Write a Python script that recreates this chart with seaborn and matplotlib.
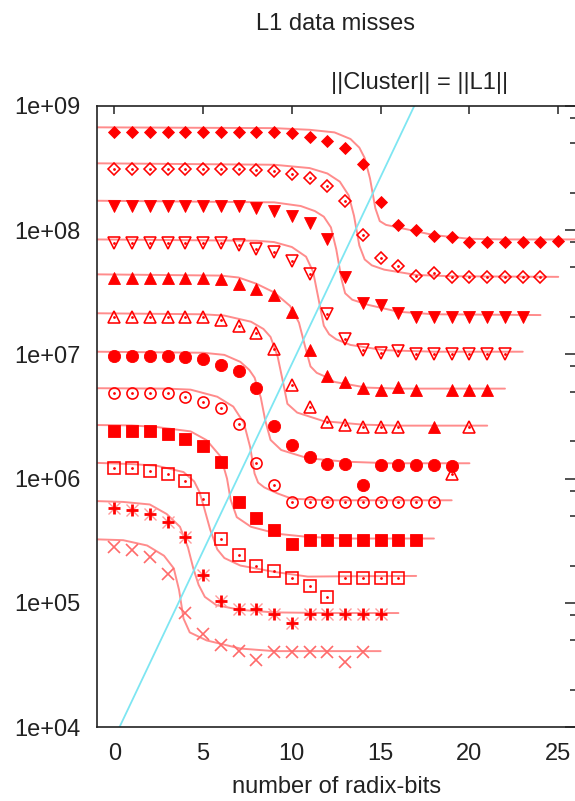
import numpy as np
import pandas as pd
import matplotlib
matplotlib.use("Agg")
import matplotlib.pyplot as plt
import seaborn as sns
from matplotlib.ticker import FixedLocator, FuncFormatter, NullFormatter, NullLocator

# ------------------------------------------------------------------ data
radix_bits = [0, 1, 2, 3, 4, 5, 6, 7, 8, 9, 10, 11, 12, 13, 14, 15, 16, 17,
              18, 19, 20, 21, 22, 23, 24, 25]

# measured L1 data misses, one list per series (top to bottom)
misses_s1 = [6.2e8, 6.2e8, 6.2e8, 6.2e8, 6.2e8, 6.2e8, 6.2e8, 6.2e8, 6.2e8, 6.1e8,
             6.0e8, 5.6e8, 5.2e8, 4.6e8, 3.4e8, 1.69e8, 1.1e8, 1.0e8, 9.0e7, 8.8e7,
             8.0e7, 8.0e7, 8.0e7, 8.0e7, 8.0e7, 8.1e7]
misses_s2 = [3.1e8, 3.1e8, 3.1e8, 3.1e8, 3.1e8, 3.1e8, 3.1e8, 3.08e8, 3.05e8, 3.0e8,
             2.82e8, 2.6e8, 2.26e8, 1.72e8, 9.2e7, 6.0e7, 5.1e7, 4.3e7, 4.5e7, 4.2e7,
             4.2e7, 4.2e7, 4.2e7, 4.2e7, 4.2e7]
misses_s3 = [1.55e8, 1.55e8, 1.55e8, 1.55e8, 1.55e8, 1.55e8, 1.55e8, 1.55e8, 1.5e8, 1.42e8,
             1.3e8, 1.13e8, 8.5e7, 4.2e7, 2.6e7, 2.5e7, 2.16e7, 1.99e7, 1.99e7, 1.99e7,
             1.99e7, 1.99e7, 1.99e7, 1.99e7]
misses_s4 = [7.8e7, 7.8e7, 7.8e7, 7.8e7, 7.8e7, 7.8e7, 7.8e7, 7.6e7, 7.1e7, 6.6e7,
             5.6e7, 4.4e7, 2.1e7, 1.33e7, 1.08e7, 1.03e7, 1.07e7, 1.0e7, 1.0e7, 1.0e7,
             1.0e7, 1.0e7, 1.0e7]
misses_s5 = [4.1e7, 4.1e7, 4.1e7, 4.1e7, 4.1e7, 4.1e7, 4.0e7, 3.7e7, 3.33e7, 3.0e7,
             2.2e7, 1.08e7, 6.7e6, 6.0e6, 5.4e6, 5.2e6, 5.5e6, 5.2e6, 2.6e6, 5.2e6,
             5.2e6, 5.2e6]
misses_s6 = [2.0e7, 2.0e7, 2.0e7, 2.0e7, 2.0e7, 2.0e7, 1.9e7, 1.69e7, 1.49e7, 1.1e7,
             5.7e6, 3.8e6, 2.87e6, 2.7e6, 2.6e6, 2.6e6, 2.6e6, np.nan, np.nan, 1.1e6,
             2.6e6]
misses_s7 = [9.7e6, 9.7e6, 9.7e6, 9.7e6, 9.5e6, 9.1e6, 8.2e6, 7.4e6, 5.4e6, 2.67e6,
             1.86e6, 1.48e6, 1.32e6, 1.32e6, 8.9e5, 1.29e6, 1.28e6, 1.28e6, 1.29e6, 1.27e6]
misses_s8 = [4.9e6, 4.9e6, 4.9e6, 4.9e6, 4.56e6, 4.16e6, 3.67e6, 2.74e6, 1.33e6, 8.9e5,
             6.5e5, 6.5e5, 6.5e5, 6.5e5, 6.5e5, 6.5e5, 6.5e5, 6.5e5, 6.5e5]
misses_s9 = [2.43e6, 2.43e6, 2.4e6, 2.28e6, 2.1e6, 1.83e6, 1.37e6, 6.5e5, 4.8e5, 3.85e5,
             2.97e5, 3.2e5, 3.2e5, 3.2e5, 3.2e5, 3.2e5, 3.2e5, 3.2e5]
misses_s10 = [1.21e6, 1.21e6, 1.16e6, 1.09e6, 9.6e5, 6.9e5, 3.3e5, 2.43e5, 1.98e5, 1.81e5,
              1.6e5, 1.37e5, 1.12e5, 1.6e5, 1.6e5, 1.6e5, 1.6e5]
misses_s11 = [5.77e5, 5.6e5, 5.2e5, 4.5e5, 3.4e5, 1.68e5, 1.04e5, 9.0e4, 9.0e4, 8.1e4,
              6.9e4, 8.1e4, 8.1e4, 8.1e4, 8.1e4, 8.1e4]
misses_s12 = [2.83e5, 2.67e5, 2.33e5, 1.71e5, 8.3e4, 5.6e4, 4.6e4, 4.1e4, 3.5e4, 4.05e4,
              4.05e4, 4.05e4, 4.05e4, 3.37e4, 4.05e4]

# model curves
model_x_s1 = [-1, 9, 11, 12.4, 13.3, 13.8, 14.1, 14.4, 14.7, 14.95, 15.3, 16.1, 18, 20, 22, 26]
model_y_s1 = [6.7e8, 6.6e8, 6.4e8, 6.1e8, 5.4e8, 4.6e8, 3.8e8, 2.6e8, 1.5e8, 1.18e8, 1.1e8,
              1.04e8, 9.1e7, 8.5e7, 8.4e7, 8.4e7]
model_x_s2 = [-1, 9, 11, 12, 12.7, 13.2, 13.5, 13.8, 14.1, 14.5, 15.2, 17, 19, 25]
model_y_s2 = [3.44e8, 3.35e8, 3.15e8, 2.85e8, 2.45e8, 1.9e8, 1.3e8, 7.5e7, 5.8e7, 5.2e7,
              4.8e7, 4.35e7, 4.25e7, 4.2e7]
model_x_s3 = [-1, 9, 10.5, 11.3, 11.8, 12.2, 12.5, 12.8, 13.0, 13.4, 14.3, 16, 18, 24]
model_y_s3 = [1.72e8, 1.67e8, 1.56e8, 1.42e8, 1.28e8, 1.05e8, 7.0e7, 4.0e7, 3.1e7, 2.75e7,
              2.5e7, 2.2e7, 2.1e7, 2.07e7]
model_x_s4 = [-1, 8, 9, 10, 10.8, 11.2, 11.5, 11.8, 12.1, 12.5, 13.3, 15.2, 18, 23]
model_y_s4 = [8.4e7, 8.2e7, 8.0e7, 7.3e7, 6.1e7, 4.6e7, 2.8e7, 1.7e7, 1.45e7, 1.32e7,
              1.19e7, 1.08e7, 1.05e7, 1.05e7]
model_x_s5 = [-1, 6, 7, 8, 9, 9.9, 10.4, 10.75, 11.05, 11.4, 11.8, 12.4, 14.2, 16, 22]
model_y_s5 = [4.4e7, 4.3e7, 4.15e7, 3.7e7, 3.15e7, 2.45e7, 1.8e7, 1.15e7, 8.0e6, 7.1e6,
              6.7e6, 6.0e6, 5.4e6, 5.3e6, 5.3e6]
model_x_s6 = [-1, 5, 6.2, 7.7, 8.4, 8.8, 9.2, 9.5, 9.75, 10.3, 11.8, 14, 16, 21]
model_y_s6 = [2.14e7, 2.1e7, 2.05e7, 1.83e7, 1.6e7, 1.38e7, 9.6e6, 6.0e6, 4.0e6, 3.4e6,
              2.9e6, 2.72e6, 2.67e6, 2.67e6]
model_x_s7 = [-1, 5, 6.2, 7.1, 7.6, 7.9, 8.25, 8.5, 8.8, 9.4, 10.9, 13, 15.5, 20]
model_y_s7 = [1.05e7, 1.03e7, 9.9e6, 8.7e6, 7.5e6, 6.5e6, 4.5e6, 2.95e6, 2.05e6, 1.7e6,
              1.46e6, 1.37e6, 1.33e6, 1.33e6]
model_x_s8 = [-1, 3, 4.3, 5.8, 6.7, 7.3, 7.65, 7.9, 8.1, 8.45, 9.2, 10, 12, 19]
model_y_s8 = [5.34e6, 5.3e6, 5.2e6, 4.56e6, 3.8e6, 2.8e6, 1.8e6, 1.1e6, 9.3e5, 8.5e5,
              7.6e5, 6.9e5, 6.7e5, 6.7e5]
model_x_s9 = [-1, 1, 2.4, 4.3, 5.2, 6.0, 6.35, 6.55, 6.9, 7.7, 9.2, 10.9, 13, 18]
model_y_s9 = [2.7e6, 2.68e6, 2.6e6, 2.4e6, 2.04e6, 1.5e6, 1.0e6, 6.8e5, 4.9e5, 4.1e5,
              3.6e5, 3.4e5, 3.3e5, 3.3e5]
model_x_s10 = [-1, 1, 2.4, 3.9, 4.5, 4.8, 5.05, 5.4, 5.8, 6.2, 7.1, 9, 10.9, 13, 17]
model_y_s10 = [1.34e6, 1.31e6, 1.27e6, 1.13e6, 9.5e5, 7.8e5, 5.9e5, 3.9e5, 2.7e5, 2.3e5,
               2.0e5, 1.78e5, 1.63e5, 1.64e5, 1.65e5]
model_x_s11 = [-1, 0.5, 2.0, 2.95, 3.7, 4.15, 4.45, 4.75, 5.1, 5.75, 7.1, 9, 12, 16]
model_y_s11 = [6.6e5, 6.5e5, 6.2e5, 5.2e5, 4.1e5, 2.8e5, 1.9e5, 1.4e5, 1.12e5, 9.6e4,
               8.8e4, 8.4e4, 8.3e4, 8.3e4]
model_x_s12 = [-1, 0.5, 1.85, 2.8, 3.35, 3.65, 3.9, 4.25, 5.2, 7.1, 9, 15]
model_y_s12 = [3.25e5, 3.2e5, 2.9e5, 2.4e5, 1.9e5, 1.27e5, 7.5e4, 5.8e4, 5.0e4, 4.3e4,
               4.1e4, 4.1e4]

# ||Cluster|| = ||L1|| reference line
cluster_x = [0.29, 16.9]
cluster_y = [1e4, 1e9]

x_ticks = [0, 5, 10, 15, 20, 25]
y_ticks = [1e4, 1e5, 1e6, 1e7, 1e8, 1e9]
y_minor_ticks = [2e4, 5e4, 8e4, 2e5, 5e5, 8e5, 2e6, 5e6, 8e6, 2e7, 5e7, 8e7,
                 2e8, 5e8, 8e8]
title_text = "L1 data misses"
xlabel_text = "number of radix-bits"
cluster_label = "||Cluster|| = ||L1||"

measured = [misses_s1, misses_s2, misses_s3, misses_s4, misses_s5, misses_s6,
            misses_s7, misses_s8, misses_s9, misses_s10, misses_s11, misses_s12]
models = [(model_x_s1, model_y_s1), (model_x_s2, model_y_s2), (model_x_s3, model_y_s3),
          (model_x_s4, model_y_s4), (model_x_s5, model_y_s5), (model_x_s6, model_y_s6),
          (model_x_s7, model_y_s7), (model_x_s8, model_y_s8), (model_x_s9, model_y_s9),
          (model_x_s10, model_y_s10), (model_x_s11, model_y_s11),
          (model_x_s12, model_y_s12)]

# ------------------------------------------------------------------ styles
RED = "#ff0000"
LINE_RED = "#ff8c8c"
CYAN = "#7ee6f2"
INK = "#222222"

marker_styles = [
    dict(marker="D", ms=5.7, filled=True, dot=False),
    dict(marker="D", ms=5.7, filled=False, dot=True),
    dict(marker="v", ms=8.0, filled=True, dot=False),
    dict(marker="v", ms=8.0, filled=False, dot=True),
    dict(marker="^", ms=8.0, filled=True, dot=False),
    dict(marker="^", ms=8.0, filled=False, dot=True),
    dict(marker="o", ms=8.8, filled=True, dot=False),
    dict(marker="o", ms=8.0, filled=False, dot=True),
    dict(marker="s", ms=9.2, filled=True, dot=False),
    dict(marker="s", ms=8.4, filled=False, dot=True),
    dict(marker="star", ms=8.8, filled=False, dot=False),
    dict(marker="x", ms=9.0, filled=False, dot=False),
]

sns.set_style("white")
plt.rcParams["font.family"] = ["Liberation Sans", "DejaVu Sans"]
plt.rcParams["text.color"] = INK

W, H = 575, 801
fig = plt.figure(figsize=(W / 100, H / 100), dpi=100)
ax_left, ax_right, ax_top, ax_bottom = 96.5, 576.0, 105.7, 727.3
ax = fig.add_axes([ax_left / W, 1 - ax_bottom / H, (ax_right - ax_left) / W,
                   (ax_bottom - ax_top) / H])
ax.set_yscale("log")
ax.set_xlim(-1, 26)
ax.set_ylim(1e4, 1e9)

# model curves
for mx, my in models:
    df = pd.DataFrame({"bits": mx, "misses": my})
    sns.lineplot(data=df, x="bits", y="misses", ax=ax, color=LINE_RED, lw=1.4,
                 estimator=None, sort=False, legend=False)

# cluster line
sns.lineplot(x=cluster_x, y=cluster_y, ax=ax, color=CYAN, lw=1.3,
             estimator=None, sort=False, legend=False)

# measured points
for vals, st in zip(measured, marker_styles):
    df = pd.DataFrame({"bits": radix_bits[:len(vals)], "misses": vals}).dropna()
    common = dict(data=df, x="bits", y="misses", ax=ax, estimator=None,
                  linestyle="none", legend=False)
    if st["marker"] == "star":
        sns.lineplot(**common, marker="x", markersize=st["ms"] * 0.9,
                     markeredgewidth=1.0, markeredgecolor="#ff9a9a", color=RED)
        sns.lineplot(**common, marker="+", markersize=st["ms"],
                     markeredgewidth=2.0, markeredgecolor=RED, color=RED)
    elif st["marker"] == "x":
        sns.lineplot(**common, marker="x", markersize=st["ms"],
                     markeredgewidth=1.2, markeredgecolor="#ff6a6a", color=RED)
    elif st["filled"]:
        sns.lineplot(**common, marker=st["marker"], markersize=st["ms"],
                     markeredgewidth=0.6, markeredgecolor=RED,
                     markerfacecolor=RED, color=RED)
    else:
        sns.lineplot(**common, marker=st["marker"], markersize=st["ms"],
                     markeredgewidth=1.15, markeredgecolor=RED,
                     markerfacecolor="none", color=RED)
    if st["dot"]:
        sns.lineplot(**common, marker="o", markersize=2.0, markeredgewidth=0,
                     markerfacecolor=RED, markeredgecolor=RED, color=RED)

# ------------------------------------------------------------------ axes cosmetics
ax.xaxis.set_major_locator(FixedLocator(x_ticks))
ax.xaxis.set_minor_locator(NullLocator())
ax.yaxis.set_major_locator(FixedLocator(y_ticks))
ax.yaxis.set_minor_locator(FixedLocator(y_minor_ticks))
ax.yaxis.set_minor_formatter(NullFormatter())
ax.yaxis.set_major_formatter(FuncFormatter(lambda v, p: f"{v:.0e}"))
ax.xaxis.set_major_formatter(FuncFormatter(lambda v, p: f"{int(v)}"))

ax.tick_params(axis="both", which="both", direction="in", top=True, right=True,
               color=INK, width=1.1, labelcolor=INK, labelsize=17)
ax.tick_params(axis="x", which="major", length=5.8, pad=11.0)
ax.tick_params(axis="y", which="major", length=8.0, pad=11.5)
ax.tick_params(axis="y", which="minor", length=4.0)
for sp in ax.spines.values():
    sp.set_color(INK)
    sp.set_linewidth(1.2)
    sp.set_visible(True)

ax.set_xlabel(xlabel_text, fontsize=17, color=INK, labelpad=8)
ax.set_ylabel("")

fig.text(336 / W, 1 - 30.5 / H, title_text, ha="center", va="baseline",
         fontsize=17, color=INK)
fig.text(508 / W, 1 - 89.5 / H, cluster_label, ha="right", va="baseline",
         fontsize=17, color=INK)

fig.savefig("out.png", dpi=100, facecolor="white")
